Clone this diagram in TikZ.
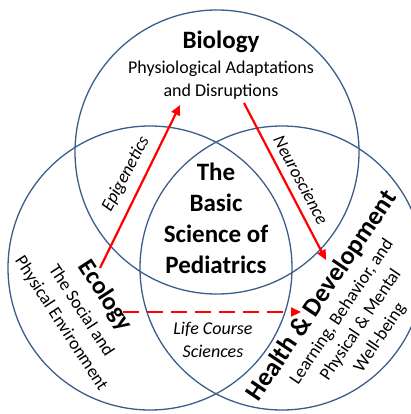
\documentclass[tikz,border=0pt]{standalone}
\usepackage{fontspec}
\setmainfont{Carlito}
\usetikzlibrary{arrows.meta}
\definecolor{ringblue}{RGB}{58,94,138}
\definecolor{linkred}{RGB}{255,0,0}

\begin{document}
\begin{tikzpicture}[x=1pt,y=-1pt,
    ring/.style={draw=ringblue,line width=1.3pt},
    title/.style={font=\fontsize{25}{27}\selectfont\bfseries},
    sub/.style={font=\fontsize{18}{23}\selectfont,align=center},
    side/.style={font=\fontsize{18}{23}\selectfont\itshape,align=center},
    link/.style={linkred,line width=2.2pt,-{Triangle[length=10pt,width=9pt]}}]
    \useasboundingbox (0,0) rectangle (410,414);

    % the three rings
    \draw[ring] (217,152) circle[radius=142pt];
    \draw[ring] (150,268) circle[radius=142pt];
    \draw[ring] (282,268) circle[radius=142pt];

    \node[title] (biology) at (221,42) {Biology};
    \node[sub] (biosub) at (221,80) {Physiological Adaptations\\and Disruptions};

    \node[title,font=\fontsize{25}{31}\selectfont\bfseries,align=center] (core) at (216,218)
        {The\\Basic\\Science of\\Pediatrics};

    \node[title,rotate=-57] (ecology) at (105,296) {Ecology};
    \node[sub,font=\fontsize{18}{24}\selectfont,rotate=-57] (ecosub) at (71,317) {The Social and\\Physical Environment};

    \node[title,font=\fontsize{26}{28}\selectfont\bfseries,rotate=56] (health) at (322,296) {Health \& Development};
    \node[sub,rotate=56] (healthsub) at (361,325) {Learning, Behavior, and\\Physical \& Mental\\Well-being};

    \node[side,rotate=62] (epi) at (126,174) {Epigenetics};
    \node[side,rotate=-62] (neuro) at (301,180) {Neuroscience};
    \node[side] (lifecourse) at (213,340) {Life Course\\Sciences};

    % arrow ends
    \coordinate (ecoTop) at (100,268);
    \coordinate (bioLeft) at (180,105);
    \coordinate (bioRight) at (244,103);
    \coordinate (healthTop) at (326,260);
    \coordinate (ecoRight) at (123,312);
    \coordinate (healthLeft) at (301,312);

    \draw[link] (ecoTop) -- (bioLeft);
    \draw[link] (bioRight) -- (healthTop);
    \draw[link,dash pattern=on 16pt off 8pt] (ecoRight) -- (healthLeft);
\end{tikzpicture}
\end{document}
